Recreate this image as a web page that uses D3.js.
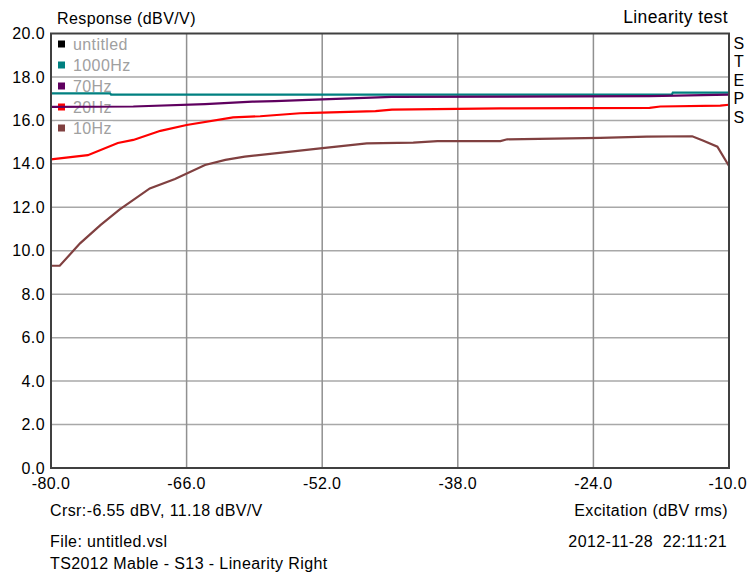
<!DOCTYPE html>
<html>
<head>
<meta charset="utf-8">
<script src="https://cdn.jsdelivr.net/npm/d3@7"></script>
<style>
  body { margin: 0; background: #fff; }
  svg { font-family: "Liberation Sans", Arial, sans-serif; }
</style>
</head>
<body>
<div id="vis"></div>
<script>
// Frame size
const FRAME_WIDTH = 750;
const FRAME_HEIGHT = 576;
const MARGINS = {left: 51, right: 21, top: 33.5, bottom: 108};

const VIS_WIDTH = FRAME_WIDTH - MARGINS.left - MARGINS.right;
const VIS_HEIGHT = FRAME_HEIGHT - MARGINS.top - MARGINS.bottom;

const FONT_SIZE = 16;
const LETTER_SP = 0.4;

// Ticks
const X_TICKS = [-80, -66, -52, -38, -24, -10];
const Y_TICKS = [0, 2, 4, 6, 8, 10, 12, 14, 16, 18, 20];

// Legend
const LEGEND_NAMES = ["untitled", "1000Hz", "70Hz", "20Hz", "10Hz"];
const LEGEND_COLORS = ["#000000", "#008080", "#5f005f", "#ff0000", "#804040"];

// 1000Hz
const X_1000 = [-80, -73.9, -73.8, -15.9, -15.8, -10];
const Y_1000 = [17.24, 17.24, 17.19, 17.19, 17.28, 17.28];

// 70Hz
const X_70 = [-80, -71.5, -64.1, -59.2, -56.9, -52.0, -44.8, -18.2, -10];
const Y_70 = [16.62, 16.64, 16.75, 16.86, 16.89, 16.97, 17.08, 17.12, 17.19];

// 20Hz
const X_20 = [-80, -76.2, -73.1, -71.5, -68.7, -66.0, -61.2, -58.4, -54.3, -52.0, -46.5, -44.8, -33.6, -18.2, -17.1, -10.9, -10];
const Y_20 = [14.21, 14.4, 14.96, 15.1, 15.52, 15.79, 16.14, 16.19, 16.33, 16.36, 16.43, 16.5, 16.55, 16.58, 16.64, 16.68, 16.72];

// 10Hz
const X_10 = [-80, -79.1, -77.0, -74.9, -72.9, -69.8, -67.2, -64.1, -62.0, -60.0, -56.9, -52.2, -47.4, -42.6, -40.1, -33.6, -32.9, -23.3, -18.5, -13.8, -12.7, -11.2, -10];
const Y_10 = [9.31, 9.31, 10.34, 11.18, 11.9, 12.87, 13.3, 13.95, 14.18, 14.33, 14.48, 14.71, 14.94, 14.98, 15.05, 15.05, 15.13, 15.2, 15.25, 15.27, 15.07, 14.79, 13.9];

const SERIES = [
  {x: X_1000, y: Y_1000, color: LEGEND_COLORS[1]},
  {x: X_70, y: Y_70, color: LEGEND_COLORS[2]},
  {x: X_20, y: Y_20, color: LEGEND_COLORS[3]},
  {x: X_10, y: Y_10, color: LEGEND_COLORS[4]}
];

const FRAME = d3.select("#vis")
                .append("svg")
                .attr("width", FRAME_WIDTH)
                .attr("height", FRAME_HEIGHT);

// Scales
const X_SCALE = d3.scaleLinear()
                  .domain([-80, -10])
                  .range([MARGINS.left, MARGINS.left + VIS_WIDTH]);

const Y_SCALE = d3.scaleLinear()
                  .domain([0, 20])
                  .range([MARGINS.top + VIS_HEIGHT, MARGINS.top]);

// Grid lines
FRAME.append("g").selectAll("line")
     .data(Y_TICKS.slice(1, -1))
     .enter()
     .append("line")
       .attr("x1", X_SCALE(-80))
       .attr("x2", X_SCALE(-10))
       .attr("y1", (d) => { return Y_SCALE(d); })
       .attr("y2", (d) => { return Y_SCALE(d); })
       .attr("stroke", "#a8a8a8")
       .attr("stroke-width", 1.5);

FRAME.append("g").selectAll("line")
     .data(X_TICKS.slice(1, -1))
     .enter()
     .append("line")
       .attr("x1", (d) => { return X_SCALE(d); })
       .attr("x2", (d) => { return X_SCALE(d); })
       .attr("y1", Y_SCALE(0))
       .attr("y2", Y_SCALE(20))
       .attr("stroke", "#909090")
       .attr("stroke-width", 1.5);

// Legend (labels blank out the grid behind them)
const legend = FRAME.append("g");
LEGEND_NAMES.forEach((name, i) => {
  const cy = 44 + i * 21;
  const txt = legend.append("text")
        .attr("x", 73)
        .attr("y", cy)
        .attr("dy", "0.35em")
        .attr("font-size", FONT_SIZE)
        .attr("letter-spacing", LETTER_SP)
        .attr("fill", "#a0a0a0")
        .text(name);
  const bb = txt.node().getBBox();
  legend.insert("rect", "text")
        .attr("x", 55)
        .attr("y", bb.y + 2)
        .attr("width", bb.x + bb.width - 55 + 1)
        .attr("height", bb.height - 4)
        .attr("fill", "#fff");
  legend.append("rect")
        .attr("x", 58)
        .attr("y", cy - 3.5)
        .attr("width", 7)
        .attr("height", 7)
        .attr("fill", LEGEND_COLORS[i]);
});

// Data lines
const line = d3.line()
               .x((d) => { return X_SCALE(d[0]); })
               .y((d) => { return Y_SCALE(d[1]); });

SERIES.forEach((s) => {
  FRAME.append("path")
       .datum(d3.zip(s.x, s.y))
       .attr("d", line)
       .attr("fill", "none")
       .attr("stroke", s.color)
       .attr("stroke-width", 2.2);
});

// Plot border
FRAME.append("rect")
     .attr("x", X_SCALE(-80))
     .attr("y", Y_SCALE(20))
     .attr("width", VIS_WIDTH)
     .attr("height", VIS_HEIGHT)
     .attr("fill", "none")
     .attr("stroke", "#404040")
     .attr("stroke-width", 2);

// Text helper
function addText(x, y, str, anchor, size) {
  return FRAME.append("text")
       .attr("x", x)
       .attr("y", y)
       .attr("dy", "0.35em")
       .attr("text-anchor", anchor)
       .attr("font-size", size || FONT_SIZE)
       .attr("letter-spacing", LETTER_SP)
       .text(str);
}

// Y axis labels
Y_TICKS.forEach((d) => {
  addText(45, Y_SCALE(d), d.toFixed(1), "end");
});

// X axis labels
X_TICKS.forEach((d) => {
  if (d === -10) {
    addText(747, 483, d.toFixed(1), "end");
  } else {
    addText(X_SCALE(d), 483, d.toFixed(1), "middle");
  }
});

// Titles and notes
addText(57, 18, "Response (dBV/V)", "start");
addText(728, 17, "Linearity test", "end", 17.5);
addText(50, 510, "Crsr:-6.55 dBV, 11.18 dBV/V", "start");
addText(728, 510, "Excitation (dBV rms)", "end");
addText(50, 541, "File: untitled.vsl", "start");
addText(727, 541, "2012-11-28  22:11:21", "end").style("white-space", "pre");
addText(50, 563, "TS2012 Mable - S13 - Linearity Right", "start");

// Vertical STEPS
"STEPS".split("").forEach((c, i) => {
  addText(739, 43 + i * 18.5, c, "middle");
});
</script>
</body>
</html>
